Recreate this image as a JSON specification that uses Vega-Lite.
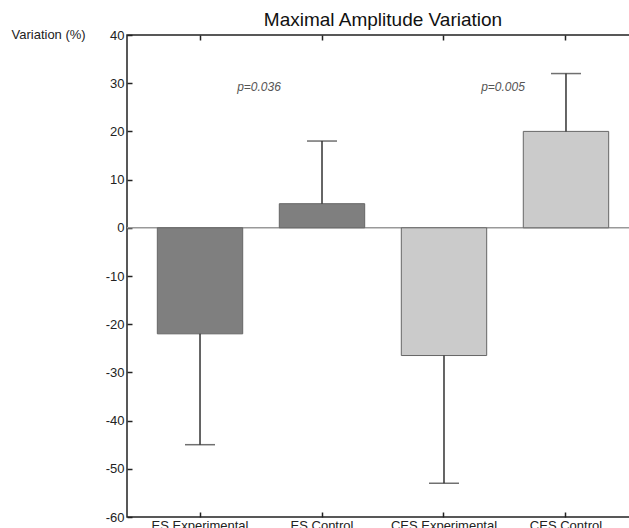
{
  "$schema": "https://vega.github.io/schema/vega-lite/v6.json",
  "width": 512,
  "height": 482,
  "autosize": {"type": "none"},
  "padding": {"left": 127, "top": 35, "right": 0, "bottom": 11},
  "config": {
    "view": {"stroke": "#222", "strokeWidth": 1.5},
    "font": "Liberation Sans",
    "axis": {"grid": false, "domain": false, "labelFont": "Liberation Sans", "labelFontSize": 13, "labelColor": "#222", "tickColor": "#222", "tickWidth": 1.5}
  },
  "title": {"text": "Maximal Amplitude Variation", "fontSize": 19, "fontWeight": "normal", "font": "Liberation Sans", "color": "#111", "offset": -2},
  "datasets": {
    "bars": [
      {"group": "ES Experimental", "cond": "ES", "mean": -22, "err": -45},
      {"group": "ES Control", "cond": "ES", "mean": 5, "err": 18},
      {"group": "CES Experimental", "cond": "CES", "mean": -26.5, "err": -53},
      {"group": "CES Control", "cond": "CES", "mean": 20, "err": 32}
    ],
    "pvals": [
      {"group": "ES Experimental", "y": 29.3, "label": "p=0.036"},
      {"group": "CES Experimental", "y": 29.3, "label": "p=0.005"}
    ],
    "zero": [{"v": 0}]
  },
  "layer": [
    {
      "data": {"name": "zero"},
      "mark": {"type": "rule", "color": "#999", "strokeWidth": 1.5},
      "encoding": {
        "y": {"field": "v", "type": "quantitative", "scale": {"domain": [-60, 40], "nice": false},
          "axis": {"values": [-60, -50, -40, -30, -20, -10, 0, 10, 20, 30, 40], "labelExpr": "toString(datum.value)", "tickSize": -5, "labelPadding": 8, "title": "Variation (%)", "titleAngle": 0, "titleAlign": "left", "titleBaseline": "middle", "titleX": -116, "titleY": -1, "titleFontSize": 13, "titleFontWeight": "normal", "titleColor": "#222", "titleFont": "Liberation Sans"}}
      }
    },
    {
      "data": {"name": "bars"},
      "mark": {"type": "bar", "stroke": "#666", "strokeWidth": 1},
      "encoding": {
        "x": {"field": "group", "type": "nominal", "sort": null,
          "scale": {"paddingInner": 0.3, "paddingOuter": 0.2485},
          "axis": {"orient": "bottom", "title": null, "labelAngle": 0, "tickSize": -5, "labelPadding": 7}},
        "y": {"field": "mean", "type": "quantitative"},
        "color": {"field": "cond", "type": "nominal", "scale": {"domain": ["ES", "CES"], "range": ["#7f7f7f", "#cbcbcb"]}, "legend": null}
      }
    },
    {
      "data": {"name": "bars"},
      "mark": {"type": "rule", "color": "#333", "strokeWidth": 1.5},
      "encoding": {
        "x": {"field": "group", "type": "nominal", "sort": null,
          "axis": {"orient": "top", "title": null, "labels": false, "tickSize": -5}},
        "y": {"field": "mean", "type": "quantitative"},
        "y2": {"field": "err"}
      }
    },
    {
      "data": {"name": "bars"},
      "mark": {"type": "tick", "color": "#333", "thickness": 1.5, "size": 30, "orient": "horizontal"},
      "encoding": {
        "x": {"field": "group", "type": "nominal", "sort": null, "axis": null},
        "y": {"field": "err", "type": "quantitative"}
      }
    },
    {
      "data": {"name": "pvals"},
      "mark": {"type": "text", "fontStyle": "italic", "fontSize": 12, "color": "#555", "dx": 59, "align": "center", "baseline": "middle"},
      "encoding": {
        "x": {"field": "group", "type": "nominal", "sort": null, "axis": null},
        "y": {"field": "y", "type": "quantitative"},
        "text": {"field": "label"}
      }
    }
  ],
  "resolve": {"axis": {"x": "independent"}}
}
